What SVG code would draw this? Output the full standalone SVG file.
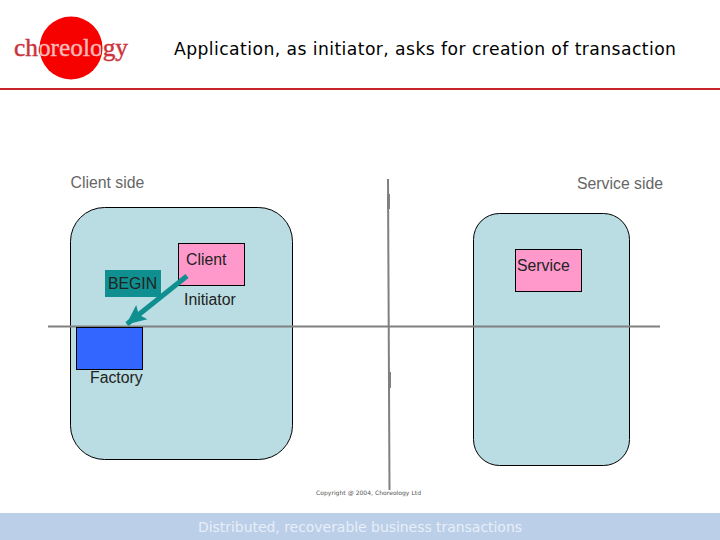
<svg xmlns="http://www.w3.org/2000/svg" width="720" height="540" viewBox="0 0 720 540">
<style>
.s{font-family:"Liberation Sans",Arial,sans-serif;font-size:15.800px;fill:#222}
.g{fill:#666}
.v{font-family:"DejaVu Sans",Verdana,sans-serif}
.area{fill:#b9dde2;stroke:#000;stroke-width:1}
.axis{stroke:#808080;fill:none}
</style>
<defs>
<marker id="ah" markerUnits="userSpaceOnUse" markerWidth="20" markerHeight="20" refX="19" refY="10" orient="auto"><path d="M0,1L20,10L0,19L4,10Z" fill="#0f8f8f"/></marker>
<linearGradient id="lg" gradientUnits="userSpaceOnUse" x1="14" y1="0" x2="128" y2="0">
<stop offset="0.23" stop-color="#c9343c"/><stop offset="0.23" stop-color="#f7b8b8"/>
<stop offset="0.76" stop-color="#f7b8b8"/><stop offset="0.76" stop-color="#c9343c"/>
</linearGradient>
</defs>
<rect width="720" height="540" fill="#fff"/>
<g id="logo">
<circle cx="71" cy="48" r="31.500" fill="#f60000"/>
<text x="14" y="56" fill="url(#lg)" stroke="url(#lg)" stroke-width="0.4" style="font-family:'Liberation Serif',serif;font-size:25px" textLength="114" lengthAdjust="spacingAndGlyphs">choreology</text>
</g>
<text x="174" y="54.500" class="v" style="font-size:17.200px;fill:#000" textLength="502">Application, as initiator, asks for creation of transaction</text>
<rect x="0" y="88" width="720" height="2" fill="#c8242b"/>
<text x="70.500" y="187.500" class="s g">Client side</text>
<text x="577" y="188.500" class="s g">Service side</text>
<g id="client-area"><rect class="area" x="70.500" y="207.500" width="222" height="252" rx="34"/></g>
<g id="service-area"><rect class="area" x="473.500" y="213.500" width="156" height="252" rx="26"/></g>
<g id="connectors">
<path class="axis" stroke-width="2" d="M48,326.500H660"/>
<path class="axis" stroke-width="2" d="M388,179L389.500,490"/>
<path class="axis" stroke-width="3" d="M388.500,194V209M389.500,372V388"/>
</g>
<g id="client"><rect x="178.500" y="243.500" width="66" height="42" fill="#ff99cc" stroke="#000"/><text x="186" y="264.500" class="s">Client</text></g>
<g id="service"><rect x="515.500" y="249.500" width="66" height="42" fill="#ff99cc" stroke="#000"/><text x="517" y="270.500" class="s">Service</text></g>
<g id="begin"><rect x="105" y="270" width="56" height="27" fill="#0f8f8f"/><text x="108" y="289" class="s">BEGIN</text></g>
<text x="184" y="305" class="s">Initiator</text>
<g id="factory"><rect x="76.500" y="327.500" width="66" height="42" fill="#3366ff" stroke="#000"/><text x="90" y="383" class="s">Factory</text></g>
<g id="begin-arrow"><path d="M187,276L127,324" stroke="#0f8f8f" stroke-width="5" fill="none" marker-end="url(#ah)"/></g>
<text x="316" y="495" class="v" style="font-size:6px;fill:#555" textLength="105">Copyright @ 2004, Choreology Ltd</text>
<rect x="0" y="513" width="720" height="27" fill="#bbcfe8"/>
<text x="198" y="532" class="v" style="font-size:14px;fill:#e8eef8" textLength="324">Distributed, recoverable business transactions</text>
</svg>
